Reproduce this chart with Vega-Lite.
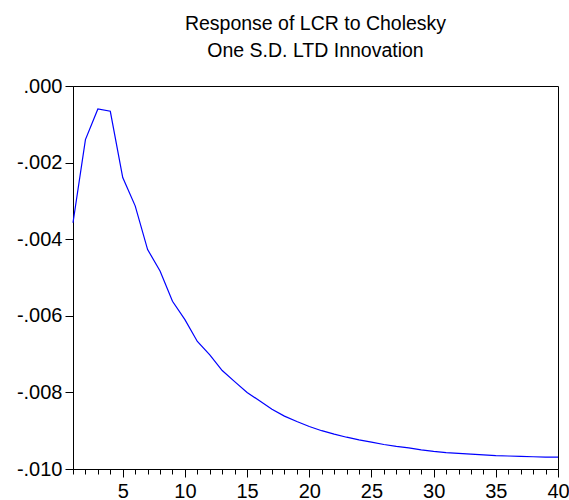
{
  "$schema": "https://vega.github.io/schema/vega-lite/v6.json",
  "width": 485,
  "height": 383,
  "autosize": {"type": "none"},
  "padding": {"left": 73, "top": 86, "right": 11, "bottom": 31},
  "title": {
    "text": ["Response of LCR to Cholesky", "One S.D. LTD Innovation"],
    "font": "Liberation Sans",
    "fontSize": 19.5,
    "fontWeight": "normal",
    "color": "black",
    "lineHeight": 27,
    "offset": 15,
    "anchor": "middle",
    "frame": "group"
  },
  "data": {
    "values": [
      {"period": 1, "response": -0.00357},
      {"period": 2, "response": -0.00140},
      {"period": 3, "response": -0.00060},
      {"period": 4, "response": -0.00066},
      {"period": 5, "response": -0.00239},
      {"period": 6, "response": -0.00313},
      {"period": 7, "response": -0.00427},
      {"period": 8, "response": -0.00483},
      {"period": 9, "response": -0.00562},
      {"period": 10, "response": -0.00610},
      {"period": 11, "response": -0.00667},
      {"period": 12, "response": -0.00702},
      {"period": 13, "response": -0.00743},
      {"period": 14, "response": -0.00772},
      {"period": 15, "response": -0.00800},
      {"period": 16, "response": -0.00822},
      {"period": 17, "response": -0.00844},
      {"period": 18, "response": -0.00862},
      {"period": 19, "response": -0.00876},
      {"period": 20, "response": -0.00889},
      {"period": 21, "response": -0.00900},
      {"period": 22, "response": -0.00909},
      {"period": 23, "response": -0.00917},
      {"period": 24, "response": -0.00924},
      {"period": 25, "response": -0.00930},
      {"period": 26, "response": -0.00936},
      {"period": 27, "response": -0.00941},
      {"period": 28, "response": -0.00945},
      {"period": 29, "response": -0.00950},
      {"period": 30, "response": -0.00954},
      {"period": 31, "response": -0.00957},
      {"period": 32, "response": -0.00959},
      {"period": 33, "response": -0.00961},
      {"period": 34, "response": -0.00963},
      {"period": 35, "response": -0.00965},
      {"period": 36, "response": -0.00966},
      {"period": 37, "response": -0.00967},
      {"period": 38, "response": -0.00968},
      {"period": 39, "response": -0.00969},
      {"period": 40, "response": -0.00969}
    ]
  },
  "mark": {"type": "line", "color": "#0000ff", "strokeWidth": 1.2},
  "encoding": {
    "x": {
      "field": "period",
      "type": "quantitative",
      "scale": {"domain": [1, 40], "nice": false, "zero": false},
      "axis": {
        "title": null,
        "values": [1,2,3,4,5,6,7,8,9,10,11,12,13,14,15,16,17,18,19,20,21,22,23,24,25,26,27,28,29,30,31,32,33,34,35,36,37,38,39,40],
        "labelExpr": "datum.value % 5 === 0 ? datum.label : ''",
        "tickSize": {"condition": {"test": "datum.value % 5 === 0", "value": 8}, "value": 5},
        "grid": false,
        "labelPadding": 4,
        "labelFlush": false,
        "labelOverlap": false
      }
    },
    "y": {
      "field": "response",
      "type": "quantitative",
      "scale": {"domain": [-0.010, 0], "nice": false, "zero": false},
      "axis": {
        "title": null,
        "values": [-0.010, -0.008, -0.006, -0.004, -0.002, 0],
        "labelExpr": "replace(replace(format(datum.value, '.3f'), '\u2212', '-'), '0.', '.')",
        "tickSize": 8,
        "labelPadding": 3,
        "grid": false
      }
    }
  },
  "config": {
    "view": {"stroke": "black", "strokeWidth": 1},
    "axis": {
      "domainColor": "black",
      "tickColor": "black",
      "labelColor": "black",
      "labelFont": "Liberation Sans",
      "labelFontSize": 20,
      "domainWidth": 1,
      "tickWidth": 1
    }
  }
}
